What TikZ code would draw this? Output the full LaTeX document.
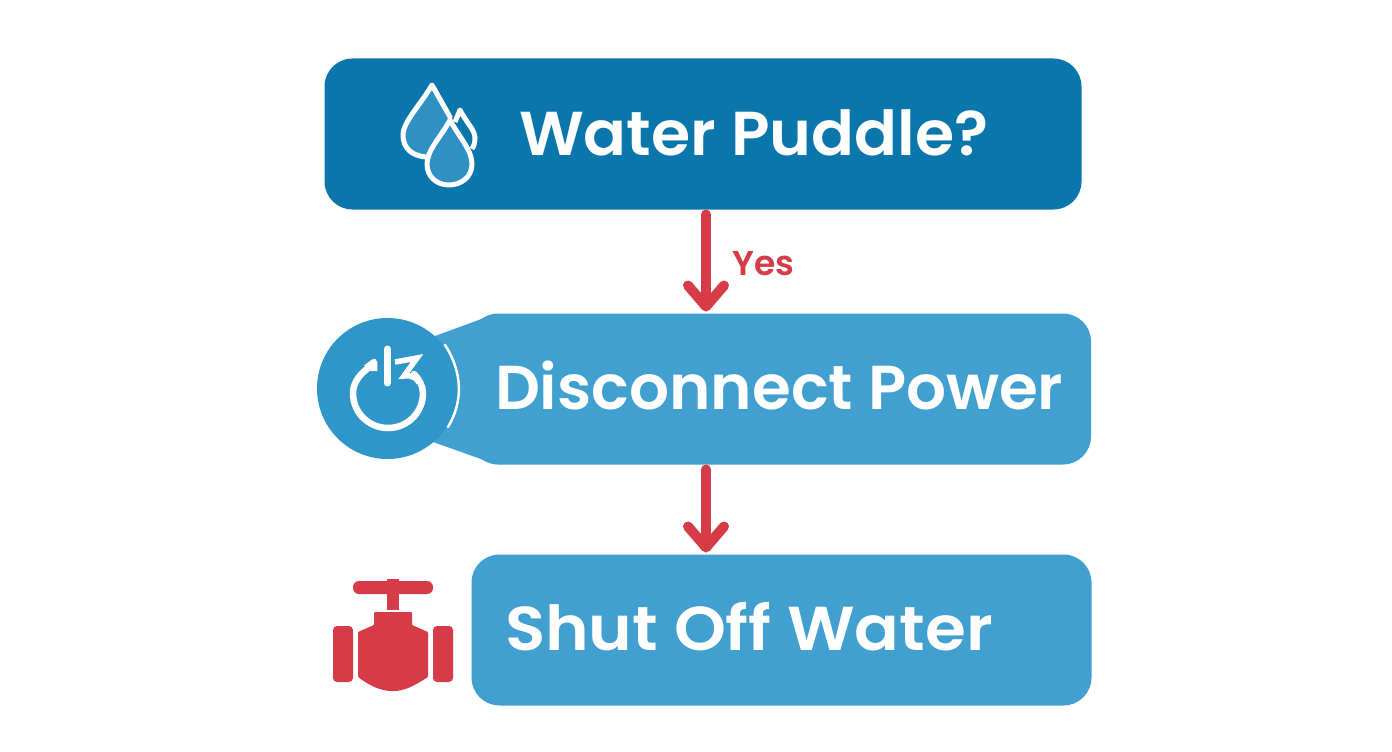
\documentclass[tikz,border=0pt]{standalone}
\usepackage{fontspec}
\setmainfont{Poppins}[BoldFont={Poppins SemiBold}]
\usetikzlibrary{arrows.meta,calc}
\definecolor{deepblue}{HTML}{0B76AB}
\definecolor{midblue}{HTML}{41A0CF}
\definecolor{circblue}{HTML}{2F96C9}
\definecolor{dropblue}{HTML}{2F90C4}
\definecolor{alert}{HTML}{D63B48}
\tikzset{
  boxnode/.style={rounded corners=#1,inner sep=0pt,outer sep=0pt,minimum height=151pt,text=white},
  boxnode/.default=28pt,
  label text/.style={anchor=base west,inner sep=0pt,outer sep=0pt,text=white,font=\fontsize{62}{62}\selectfont\bfseries},
  flow/.style={draw=alert,line width=10pt,line cap=round,
    -{Straight Barb[length=21pt,width=36pt,round,line width=10pt]}},
  iconline/.style={draw=white,line width=6.5pt,line cap=round,line join=round},
  dropline/.style={draw=white,line width=5pt,line join=round,line cap=round},
}
\begin{document}
\begin{tikzpicture}[x=1pt,y=-1pt]
\useasboundingbox (0,0) rectangle (1392,752);
\coordinate (spine) at (706,0);

% boxes
\node[boxnode,fill=deepblue,minimum width=757pt] (a) at (703,134) {};
\fill[midblue] (420,330) -- (435,336) -- (495,314) -- (510,314) -- (510,464) -- (495,464) -- (433,442) -- (420,440) -- cycle;
\node[boxnode,fill=midblue,minimum width=621pt] (b) at (780.5,389) {};
\node[boxnode,fill=midblue,minimum width=620pt] (c) at (781.5,630) {};
\node[circle,fill=circblue,minimum size=141pt,inner sep=0pt,outer sep=0pt] (pw) at (387.5,388.5) {};

% drops
\fill[dropblue] (432,85) -- (452,119) -- (430,157)
  .. controls (414,156) and (403,150) .. (403,135)
  .. controls (403,122) and (421,104) .. (432,85) -- cycle;
\path[dropline] (450,117) -- (432,85)
  .. controls (421,104) and (403,122) .. (403,135)
  .. controls (403,150) and (414,156) .. (426,157);
\path[dropline,line cap=butt] (455,122) -- (460,110)
  .. controls (466,122) and (475,130) .. (475,138)
  .. controls (475,142) and (474,146) .. (472,149);
\path[fill=dropblue,dropline] (450,120)
  .. controls (441,137) and (427,150) .. (427,164)
  .. controls (427,177) and (437,185) .. (449,185)
  .. controls (461,185) and (472,177) .. (472,164)
  .. controls (472,150) and (459,137) .. (450,120) -- cycle;

% power icon
\draw[iconline] (373,365) .. controls (361,372) and (353,382) .. (353,393)
  .. controls (353,413) and (369,428) .. (388,428)
  .. controls (408,428) and (423,412) .. (423,393)
  .. controls (423,386) and (419,379) .. (414,374);
\draw[iconline,line cap=butt] (366,368) -- (374,362) -- (374,371);
\draw[iconline,line width=7pt] (387,349) -- (387,383);
\draw[iconline,line width=5.5pt,line cap=butt,line join=miter] (395,362) -- (417,358) -- (404,376) .. controls (412,375) and (417,378) .. (419,383);
\draw[white,line width=2.5pt,line cap=round] (445,345) .. controls (458,365) and (467,395) .. (448,427);

% valve
\fill[alert,rounded corners=6pt] (353,581) rectangle (433,594);
\fill[alert] (387,579) rectangle (399,583);
\fill[alert] (387,590) rectangle (399,610);
\fill[alert,rounded corners=1pt] (374,612) -- (412,612) -- (412,625) -- (428,632) -- (428,677)
  .. controls (414,686) and (404,691) .. (393,691)
  .. controls (381,691) and (370,686) .. (358,677) -- (358,632) -- (374,625) -- cycle;
\fill[alert,rounded corners=4pt] (333,626) rectangle (353,682);
\fill[alert,rounded corners=4pt] (433,626) rectangle (453,682);

% text
\node[label text] (ta) at (519,155) {\scalebox{1.022}[1]{Water Puddle?}};
\node[label text] (tb) at (495,409) {\scalebox{1.012}[1]{Disconnect Power}};
\node[label text] (tc) at (505,650) {\scalebox{1.066}[1]{Shut Off Water}};

% connectors
\draw[flow] ($(a.south -| spine)+(0,5)$) -- ($(b.north -| spine)+(0,-2)$);
\draw[flow] ($(b.south -| spine)+(0,5)$) -- ($(c.north -| spine)+(0,-2)$);
\node[anchor=base west,inner sep=0pt,text=alert,font=\fontsize{34.5}{34.5}\selectfont\bfseries] (yes) at (732,275) {Yes};
\end{tikzpicture}
\end{document}
